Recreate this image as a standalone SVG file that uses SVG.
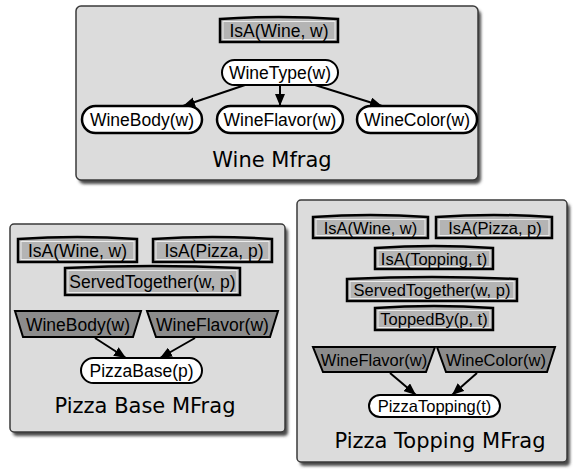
<svg xmlns="http://www.w3.org/2000/svg" width="576" height="474" viewBox="0 0 576 474">
<style>
.panel{fill:#dcdcdc;stroke:#3a3a3a;stroke-width:1.5}
.shadow{fill:#4a4a4a;filter:url(#blur)}
.ctx{fill:#b4b4b4;stroke:#000;stroke-width:2.5}
.inset{fill:none;stroke:#ececec;stroke-width:1}
.inp{fill:#8c8c8c;stroke:#000;stroke-width:2}
.res{fill:#fff;stroke:#000;stroke-width:2}
.lbl{font-family:"Liberation Sans",Arial,sans-serif;font-size:17.5px;fill:#000;text-anchor:middle}
.sm{font-size:16.5px}
.title{font-family:"Comic Sans MS","DejaVu Sans",sans-serif;font-size:21px;fill:#000;text-anchor:middle}
.edge{stroke:#000;stroke-width:2;fill:none;marker-end:url(#arr)}
</style>
<defs>
<filter id="blur" x="-5%" y="-5%" width="110%" height="110%"><feGaussianBlur stdDeviation="1.5"/></filter>
<marker id="arr" viewBox="0 0 12 10" refX="12" refY="5" markerWidth="12" markerHeight="10" markerUnits="userSpaceOnUse" orient="auto">
<path d="M0,0 L12,5 L0,10 Z" fill="#000"/>
</marker>
</defs>

<!-- Wine MFrag -->
<g id="wine-mfrag">
<rect class="shadow" x="79" y="10" width="402" height="174" rx="5"/>
<rect class="panel" x="76" y="6" width="402" height="174" rx="5"/>
<text class="title" x="272" y="167">Wine Mfrag</text>
</g>
<g id="w-isa-wine">
<path class="ctx" d="M220,19 Q279,15 338,19 L338,42 L220,42 Z"/>
<rect class="inset" x="223" y="21.5" width="112" height="18"/>
<text class="lbl" x="279" y="37">IsA(Wine, w)</text>
</g>
<g id="w-winetype">
<rect class="res" x="222" y="60" width="116" height="25" rx="12.5"/>
<text class="lbl" x="280" y="78.5">WineType(w)</text>
</g>
<g id="w-winebody">
<rect class="res" x="82" y="106" width="120" height="27" rx="13.5" style="stroke-width:2.5"/>
<text class="lbl" x="142" y="125.5">WineBody(w)</text>
</g>
<g id="w-wineflavor">
<rect class="res" x="217" y="106" width="126" height="27" rx="13.5" style="stroke-width:2.5"/>
<text class="lbl" x="280" y="125.5">WineFlavor(w)</text>
</g>
<g id="w-winecolor">
<rect class="res" x="357" y="106" width="120" height="27" rx="13.5" style="stroke-width:2.5"/>
<text class="lbl" x="417" y="125.5">WineColor(w)</text>
</g>

<!-- Pizza Base MFrag -->
<g id="pizzabase-mfrag">
<rect class="shadow" x="13" y="228" width="275" height="208" rx="4"/>
<rect class="panel" x="10" y="224" width="275" height="208" rx="4"/>
<text class="title" x="145" y="413">Pizza Base MFrag</text>
</g>
<g id="pb-isa-wine">
<path class="ctx" d="M18,239 Q77,235 137,239 L137,262 L18,262 Z"/>
<rect class="inset" x="21" y="241.5" width="113" height="18"/>
<text class="lbl" x="77.5" y="257">IsA(Wine, w)</text>
</g>
<g id="pb-isa-pizza">
<path class="ctx" d="M153,239 Q212,235 272,239 L272,262 L153,262 Z"/>
<rect class="inset" x="156" y="241.5" width="113" height="18"/>
<text class="lbl" x="214" y="257">IsA(Pizza, p)</text>
</g>
<g id="pb-served">
<path class="ctx" d="M65,268 Q152,264 240,268 L240,295 L65,295 Z"/>
<rect class="inset" x="68" y="270.5" width="169" height="22"/>
<text class="lbl" x="152.5" y="288">ServedTogether(w, p)</text>
</g>
<g id="pb-winebody">
<path class="inp" d="M15,311 L141,311 L133,337 L23,337 Z"/>
<text class="lbl" x="78" y="330.5">WineBody(w)</text>
</g>
<g id="pb-wineflavor">
<path class="inp" d="M147,311 L278,311 L270,337 L156,337 Z"/>
<text class="lbl" x="212.5" y="330.5">WineFlavor(w)</text>
</g>
<g id="pb-pizzabase">
<rect class="res" x="81" y="358" width="121" height="25" rx="12.5"/>
<text class="lbl" x="141.5" y="376.5">PizzaBase(p)</text>
</g>

<!-- Pizza Topping MFrag -->
<g id="pizzatopping-mfrag">
<rect class="shadow" x="300" y="204" width="270" height="262" rx="4"/>
<rect class="panel" x="297" y="200" width="270" height="262" rx="4"/>
<text class="title" x="440" y="448">Pizza Topping MFrag</text>
</g>
<g id="pt-isa-wine">
<path class="ctx" d="M313,217 Q370,213 428,217 L428,238 L313,238 Z"/>
<rect class="inset" x="316" y="219.5" width="109" height="16"/>
<text class="lbl sm" x="370.5" y="233.5">IsA(Wine, w)</text>
</g>
<g id="pt-isa-pizza">
<path class="ctx" d="M436,217 Q494,213 552,217 L552,238 L436,238 Z"/>
<rect class="inset" x="439" y="219.5" width="110" height="16"/>
<text class="lbl sm" x="495" y="233.5">IsA(Pizza, p)</text>
</g>
<g id="pt-isa-topping">
<path class="ctx" d="M375,248 Q434,244 493,248 L493,269 L375,269 Z"/>
<rect class="inset" x="378" y="250.5" width="112" height="16"/>
<text class="lbl sm" x="434" y="264.5">IsA(Topping, t)</text>
</g>
<g id="pt-served">
<path class="ctx" d="M347,279 Q432,275 517,279 L517,301 L347,301 Z"/>
<rect class="inset" x="350" y="281.5" width="164" height="17"/>
<text class="lbl sm" x="432" y="296">ServedTogether(w, p)</text>
</g>
<g id="pt-toppedby">
<path class="ctx" d="M375,308 Q434,304 493,308 L493,330 L375,330 Z"/>
<rect class="inset" x="378" y="310.5" width="112" height="17"/>
<text class="lbl sm" x="434" y="325">ToppedBy(p, t)</text>
</g>
<g id="pt-wineflavor">
<path class="inp" d="M313,347 L435,347 L426,372 L323,372 Z"/>
<text class="lbl sm" x="374" y="365.5">WineFlavor(w)</text>
</g>
<g id="pt-winecolor">
<path class="inp" d="M437,347 L555,347 L547,372 L446,372 Z"/>
<text class="lbl sm" x="496" y="365.5">WineColor(w)</text>
</g>
<g id="pt-pizzatopping">
<rect class="res" x="369" y="395" width="131" height="22" rx="11"/>
<text class="lbl sm" x="434.5" y="412">PizzaTopping(t)</text>
</g>

<g id="connectors">
<line class="edge" x1="245" y1="85" x2="183" y2="106"/>
<line class="edge" x1="280" y1="85" x2="280" y2="106"/>
<line class="edge" x1="315" y1="85" x2="382" y2="106"/>
<line class="edge" x1="95" y1="338" x2="126" y2="358"/>
<line class="edge" x1="195" y1="338" x2="160" y2="358"/>
<line class="edge" x1="390" y1="373" x2="416" y2="395"/>
<line class="edge" x1="477" y1="373" x2="452" y2="395"/>
</g>
</svg>
